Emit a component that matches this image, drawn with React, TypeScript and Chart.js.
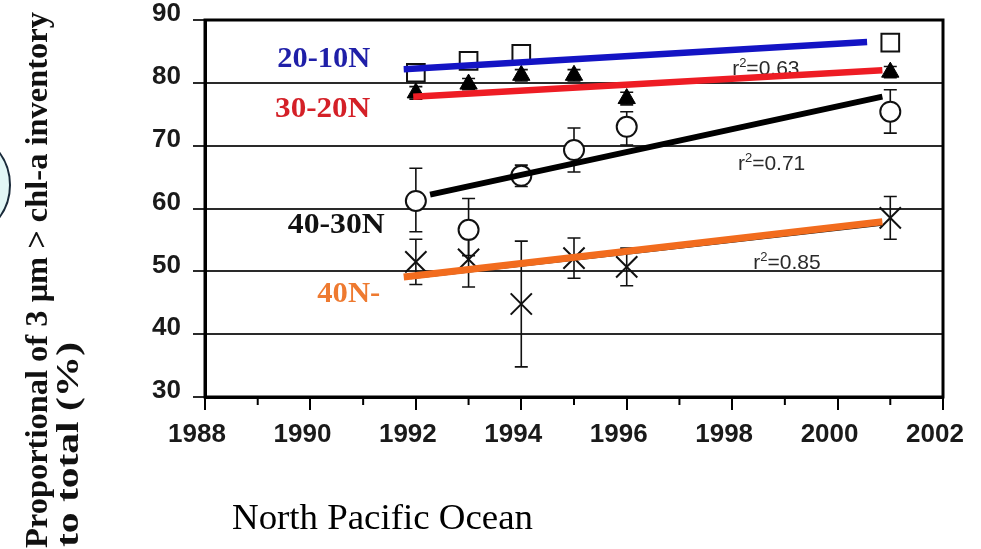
import React, { useEffect, useRef } from 'react';
import { Chart, registerables } from 'chart.js';

Chart.register(...registerables);

// ---------- data ----------
const years = [1992, 1993, 1994, 1995, 1996, 2001];
const xTickMin = 1988;
const xTickMax = 2002;
const yTickMin = 30;
const yTickMax = 90;

// 20-10N (open squares)
const sqYears = [1992, 1993, 1994, 2001];
const sqValues = [81.6, 83.5, 84.6, 86.4];
// 30-20N (filled triangles)
const triValues = [78.4, 79.8, 81.2, 81.2, 77.5, 81.7];
const triErr = [1.0, 0.9, 0.9, 0.9, 1.0, 0.9];
// 40-30N (open circles)
const circValues = [61.2, 56.6, 65.2, 69.3, 73.0, 75.4];
const circErrUp = [5.2, 5.0, 1.7, 3.5, 2.4, 3.5];
const circErrDown = [4.9, 4.1, 1.7, 3.5, 2.9, 3.4];
// 40N- (crosses)
const crossValues = [51.5, 51.9, 44.8, 52.1, 50.7, 58.5];
const crossErr = [3.6, 4.4, 10.0, 3.2, 3.0, 3.4];

// regression lines (end points)
const fit2010X = [1991.77, 2000.56];
const fit2010Y = [82.15, 86.5];
const fit3020X = [1991.95, 2000.85];
const fit3020Y = [77.8, 82.0];
const fit4030X = [1992.27, 2000.85];
const fit4030Y = [62.2, 77.8];
const fit40X = [1991.77, 2000.85];
const fit40Y = [49.1, 57.9];
const fit40BaseX = [1991.9, 2000.85];
const fit40BaseY = [48.9, 57.4];

// texts
const regionNames = ['20-10N', '30-20N', '40-30N', '40N-'];
const r2Texts = ['0.63', '0.71', '0.85'];
const yTitleLines = ['Proportional of 3 \u03bcm > chl-a inventory', 'to total (%)'];
const caption = 'North Pacific Ocean';

// ---------- layout / style (not data) ----------
const W = 981;
const H = 549;
const AREA = { left: 205, top: 20, right: 943, bottom: 397 };
const regionLayout = [
  { x: 1989.37, y: 82.5, w: 93, color: '#1f1fa8' },
  { x: 1989.33, y: 74.55, w: 95, color: '#d42027' },
  { x: 1989.57, y: 56.1, w: 97, color: '#111111' },
  { x: 1990.13, y: 45.1, w: 63, color: '#ee7a30' },
];
const r2Layout = [
  { x: 1998.0, y: 81.25 },
  { x: 1998.11, y: 66.13 },
  { x: 1998.4, y: 50.37 },
];

const mk = (xs: number[], ys: number[]) => xs.map((x, i) => ({ x, y: ys[i] }));

function drawFit(
  ctx: CanvasRenderingContext2D,
  text: string,
  x: number,
  y: number,
  font: string,
  color: string,
  width?: number,
  rot?: boolean
) {
  ctx.save();
  ctx.font = font;
  ctx.fillStyle = color;
  ctx.textBaseline = 'alphabetic';
  ctx.textAlign = 'left';
  ctx.translate(x, y);
  if (rot) ctx.rotate(-Math.PI / 2);
  if (width) {
    const w = ctx.measureText(text).width;
    ctx.scale(width / w, 1);
  }
  ctx.fillText(text, 0, 0);
  ctx.restore();
}

const decorPlugin = {
  id: 'decor',
  beforeDraw(chart: any) {
    const ctx = chart.ctx as CanvasRenderingContext2D;
    ctx.save();
    ctx.fillStyle = '#ffffff';
    ctx.fillRect(0, 0, W, H);
    // cropped circle at left edge
    ctx.beginPath();
    ctx.arc(-44.6, 185, 54.6, 0, Math.PI * 2);
    ctx.fillStyle = '#e2f6f6';
    ctx.fill();
    ctx.lineWidth = 2;
    ctx.strokeStyle = '#1a2a3a';
    ctx.stroke();
    ctx.restore();
  },
  beforeDatasetsDraw(chart: any) {
    const ctx = chart.ctx as CanvasRenderingContext2D;
    const xs = chart.scales.x;
    const ys = chart.scales.y;
    // r^2 labels (under the lines)
    r2Texts.forEach((t, i) => {
      const px = xs.getPixelForValue(r2Layout[i].x);
      const py = ys.getPixelForValue(r2Layout[i].y);
      ctx.save();
      ctx.fillStyle = '#2a2a2a';
      ctx.textBaseline = 'alphabetic';
      ctx.font = '21px "Liberation Sans", Arial, sans-serif';
      ctx.fillText('r', px, py);
      const rw = ctx.measureText('r').width;
      ctx.font = '13px "Liberation Sans", Arial, sans-serif';
      ctx.fillText('2', px + rw, py - 8);
      const sw = ctx.measureText('2').width;
      ctx.font = '21px "Liberation Sans", Arial, sans-serif';
      ctx.fillText('=' + t, px + rw + sw, py);
      ctx.restore();
    });
    // error bars
    ctx.save();
    ctx.strokeStyle = '#111';
    ctx.lineWidth = 1.6;
    const bar = (xv: number, lo: number, hi: number) => {
      const px = xs.getPixelForValue(xv);
      const p1 = ys.getPixelForValue(hi);
      const p2 = ys.getPixelForValue(lo);
      ctx.beginPath();
      ctx.moveTo(px, p1);
      ctx.lineTo(px, p2);
      ctx.moveTo(px - 6.5, p1);
      ctx.lineTo(px + 6.5, p1);
      ctx.moveTo(px - 6.5, p2);
      ctx.lineTo(px + 6.5, p2);
      ctx.stroke();
    };
    years.forEach((yr, i) => {
      bar(yr, crossValues[i] - crossErr[i], crossValues[i] + crossErr[i]);
      bar(yr, circValues[i] - circErrDown[i], circValues[i] + circErrUp[i]);
      bar(yr, triValues[i] - triErr[i], triValues[i] + triErr[i]);
    });
    ctx.restore();
  },
  afterDatasetsDraw(chart: any) {
    const ctx = chart.ctx as CanvasRenderingContext2D;
    const xs = chart.scales.x;
    const ys = chart.scales.y;
    const a = chart.chartArea;
    // frame
    ctx.save();
    ctx.strokeStyle = '#000';
    ctx.lineWidth = 3;
    ctx.strokeRect(a.left, a.top, a.right - a.left, a.bottom - a.top);
    // minor (odd-year) ticks
    ctx.lineWidth = 2;
    for (let v = xTickMin + 1; v < xTickMax; v += 2) {
      const px = xs.getPixelForValue(v);
      ctx.beginPath();
      ctx.moveTo(px, a.bottom);
      ctx.lineTo(px, a.bottom + 8);
      ctx.stroke();
    }
    ctx.restore();
    // region names
    regionNames.forEach((n, i) => {
      const L = regionLayout[i];
      drawFit(
        ctx,
        n,
        xs.getPixelForValue(L.x),
        ys.getPixelForValue(L.y),
        'bold 29px "Liberation Serif", "Times New Roman", serif',
        L.color,
        L.w
      );
    });
  },
  afterDraw(chart: any) {
    const ctx = chart.ctx as CanvasRenderingContext2D;
    drawFit(ctx, yTitleLines[0], 47, 548, 'bold 32px "Liberation Serif", "Times New Roman", serif', '#111', 536, true);
    drawFit(ctx, yTitleLines[1], 78, 547, 'bold 31px "Liberation Serif", "Times New Roman", serif', '#111', 205, true);
    drawFit(ctx, caption, 232, 529, '36px "Liberation Serif", "Times New Roman", serif', '#000', 301);
  },
};

export default function App() {
  const ref = useRef<HTMLCanvasElement | null>(null);

  useEffect(() => {
    if (!ref.current) return;
    const tickFont = { family: '"Liberation Sans", Arial, sans-serif', size: 26, weight: 'bold' as const };
    const chart = new Chart(ref.current, {
      type: 'scatter',
      data: {
        datasets: [
          { label: '40N- fit', data: mk(fit40X, fit40Y), showLine: true, borderColor: '#f26c1e', borderWidth: 7, pointRadius: 0 },
          { label: '40N- fit base', data: mk(fit40BaseX, fit40BaseY), showLine: true, borderColor: '#111', borderWidth: 2, pointRadius: 0 },
          { label: '40-30N fit', data: mk(fit4030X, fit4030Y), showLine: true, borderColor: '#000', borderWidth: 6, pointRadius: 0 },
          { label: '30-20N fit', data: mk(fit3020X, fit3020Y), showLine: true, borderColor: '#ee1c24', borderWidth: 6.5, pointRadius: 0 },
          { label: '20-10N fit', data: mk(fit2010X, fit2010Y), showLine: true, borderColor: '#1414c4', borderWidth: 6.5, pointRadius: 0 },
          {
            label: '20-10N',
            data: mk(sqYears, sqValues),
            pointStyle: 'rect',
            pointRadius: 12.5,
            backgroundColor: '#fff',
            borderColor: '#111',
            borderWidth: 2,
          },
          {
            label: '30-20N',
            data: mk(years, triValues),
            pointStyle: 'triangle',
            pointRadius: 10,
            backgroundColor: '#000',
            borderColor: '#000',
            borderWidth: 1,
          },
          {
            label: '40-30N',
            data: mk(years, circValues),
            pointStyle: 'circle',
            pointRadius: 10,
            backgroundColor: '#fff',
            borderColor: '#111',
            borderWidth: 2,
          },
          {
            label: '40N-',
            data: mk(years, crossValues),
            pointStyle: 'crossRot',
            pointRadius: 15,
            borderColor: '#111',
            borderWidth: 2,
          },
        ],
      },
      options: {
        animation: false,
        responsive: false,
        devicePixelRatio: 1,
        layout: { padding: { top: AREA.top, right: W - AREA.right, left: 0, bottom: 0 } },
        plugins: { legend: { display: false }, tooltip: { enabled: false } },
        scales: {
          x: {
            type: 'linear',
            min: xTickMin,
            max: xTickMax,
            afterFit: (s: any) => {
              s.height = H - AREA.bottom;
              s.paddingLeft = 0;
              s.paddingRight = 0;
            },
            ticks: {
              stepSize: 1,
              autoSkip: false,
              maxRotation: 0,
              padding: 9,
              labelOffset: -8,
              color: '#1a1a1a',
              font: tickFont,
              callback: (v: any) => (Number(v) % 2 === 0 ? String(v) : ''),
            },
            grid: {
              drawOnChartArea: false,
              tickLength: 13,
              lineWidth: 2,
              color: (c: any) => (c.tick && c.tick.value % 2 !== 0 ? 'rgba(0,0,0,0)' : '#000'),
            },
            border: { display: true, width: 3, color: '#000' },
          },
          y: {
            type: 'linear',
            min: yTickMin,
            max: yTickMax,
            afterFit: (s: any) => {
              s.width = AREA.left;
              s.paddingTop = 0;
              s.paddingBottom = 0;
            },
            ticks: {
              stepSize: 10,
              padding: 12,
              labelOffset: -6,
              color: '#1a1a1a',
              font: tickFont,
            },
            grid: { color: '#2a2a2a', lineWidth: 2, tickLength: 12 },
            border: { display: true, width: 3, color: '#000' },
          },
        },
      },
      plugins: [decorPlugin],
    } as any);
    return () => chart.destroy();
  }, []);

  return (
    <div style={{ position: 'fixed', left: 0, top: 0, width: W, height: H, background: '#fff', overflow: 'hidden' }}>
      <canvas ref={ref} width={W} height={H} style={{ display: 'block', width: W, height: H }} />
    </div>
  );
}
